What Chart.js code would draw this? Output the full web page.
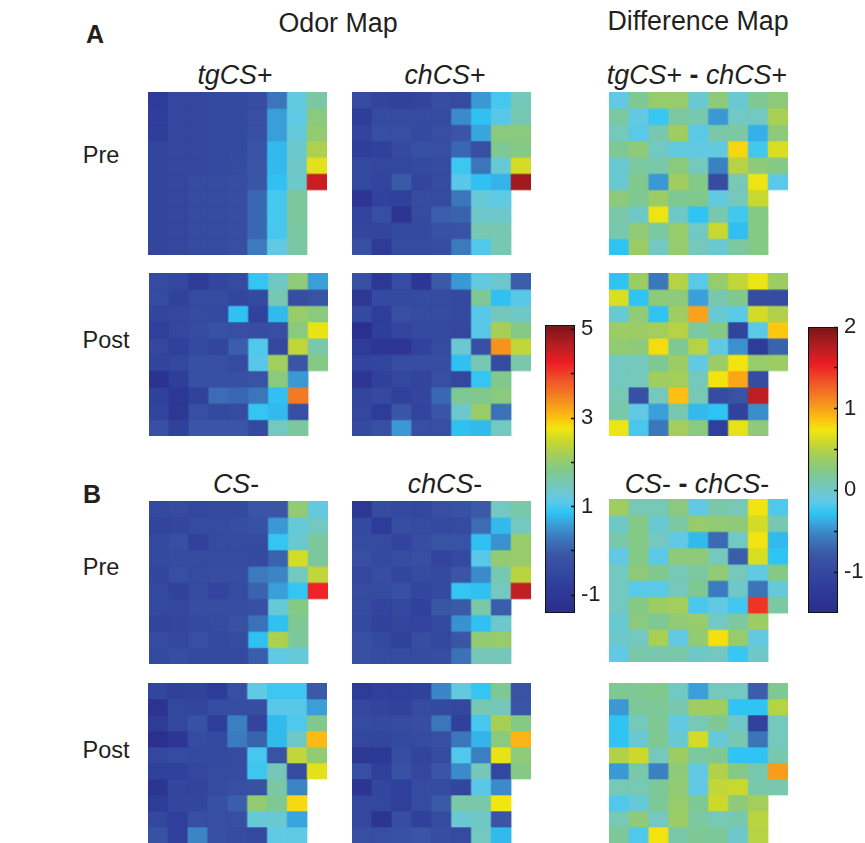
<!DOCTYPE html>
<html>
<head>
<meta charset="utf-8">
<title>Odor maps</title>
<script src="https://cdn.jsdelivr.net/npm/chart.js@4/dist/chart.umd.min.js"></script>
<style>
    html, body { margin: 0; padding: 0; background: #fff; }
    body { position: relative; width: 865px; height: 843px; overflow: hidden; font-family: "Liberation Sans", Arial, sans-serif; color: #231f20; }
    canvas { position: absolute; }
    canvas.map { filter: blur(0.4px); }
    .txt { position: absolute; white-space: nowrap; line-height: 30px; height: 30px; font-size: 26.8px; transform: translateX(-50%); }
    .row { font-size: 23.5px; }
    .panelTag { font-size: 25px; font-weight: bold; }
</style>
</head>
<body>
<div class="txt" style="left:338px;top:8px">Odor Map</div>
<div class="txt" style="left:698px;top:6px">Difference Map</div>
<div class="txt panelTag" style="left:95px;top:19px">A</div>
<div class="txt panelTag" style="left:92px;top:479px">B</div>
<div class="txt" style="left:235px;top:60px"><i>tgCS</i>+</div>
<div class="txt" style="left:445px;top:60px"><i>chCS</i>+</div>
<div class="txt" style="left:697px;top:60px"><i>tgCS</i>+ <b>-</b> <i>chCS</i>+</div>
<div class="txt" style="left:236px;top:469px"><i>CS</i>-</div>
<div class="txt" style="left:445px;top:469px"><i>chCS</i>-</div>
<div class="txt" style="left:697px;top:469px"><i>CS</i>- <b>-</b> <i>chCS</i>-</div>
<div class="txt row" style="left:101px;top:140px">Pre</div>
<div class="txt row" style="left:106px;top:325px">Post</div>
<div class="txt row" style="left:101px;top:552px">Pre</div>
<div class="txt row" style="left:106px;top:735px">Post</div>

<script>
const columns = ['1', '2', '3', '4', '5', '6', '7', '8', '9'];

// Odor map values, rows top to bottom, null = outside the bulb map
const tgCSplusPre = [
    [-0.85, -0.5, -0.5, -0.45, -0.45, -0.35, 0.25, 1.2, 1.65],
    [-0.8, -0.5, -0.5, -0.45, -0.45, -0.3, 0.6, 1.15, 1.9],
    [-0.8, -0.5, -0.5, -0.45, -0.45, -0.25, 0.6, 1.25, 2.0],
    [-0.55, -0.5, -0.5, -0.45, -0.45, -0.15, 0.8, 1.35, 2.25],
    [-0.55, -0.5, -0.5, -0.45, -0.4, -0.1, 0.8, 1.4, 2.65],
    [-0.55, -0.5, -0.4, -0.4, -0.35, -0.1, 0.85, 1.35, 4.5],
    [-0.55, -0.5, -0.4, -0.4, -0.35, 0.1, 1.0, 1.7, null],
    [-0.55, -0.5, -0.4, -0.4, -0.35, 0.1, 1.0, 1.7, null],
    [-0.55, -0.5, -0.4, -0.4, -0.35, 0.1, 1.0, 1.65, null],
    [-0.55, -0.5, -0.4, -0.4, -0.3, 0.3, 1.15, 1.65, null]
];
const chCSplusPre = [
    [-0.4, -0.6, -0.65, -0.6, -0.35, -0.4, 0.55, 1.0, 1.5],
    [-0.8, -0.4, -0.4, -0.4, -0.4, 0.45, 0.85, 1.1, 1.55],
    [-0.6, -0.3, -0.3, -0.45, -0.3, -0.1, 0.65, 1.9, 1.9],
    [-0.8, -0.7, -0.45, -0.25, -0.3, 0.1, -0.3, 1.75, 1.85],
    [-0.45, -0.5, -0.5, -0.45, -0.4, 0.95, 0.25, 1.25, 2.55],
    [-0.45, -0.6, -0.05, -0.55, -0.4, 1.1, 0.85, 0.75, 4.8],
    [-1.1, -0.65, -0.7, -0.4, -0.4, 0.25, 1.25, 1.15, null],
    [-0.6, -0.3, -1.1, -0.4, 0.0, 0.05, 1.35, 1.35, null],
    [-0.55, -0.55, -0.45, -0.45, -0.2, -0.15, 1.55, 1.55, null],
    [-0.25, -0.85, -0.4, -0.4, -0.35, 0.3, 1.05, 1.55, null]
];
const tgCSplusPost = [
    [-0.4, -0.5, -0.9, -0.55, -0.4, 0.9, 1.4, 1.95, 0.6],
    [-0.4, -0.65, -0.4, -0.4, -0.55, -0.45, 1.55, -0.35, -0.15],
    [-0.55, -0.5, -0.4, -0.45, 0.85, -0.65, 0.8, 2.05, 1.9],
    [-0.75, -0.5, -0.4, -0.2, -0.3, -0.35, -0.3, 1.9, 2.7],
    [-0.5, -0.7, -0.45, -0.55, 0.0, 1.05, -0.5, 2.4, 1.6],
    [-0.6, -0.5, -0.25, -0.25, -0.4, 1.1, 2.15, -0.1, 1.85],
    [-1.2, -0.8, -0.25, -0.25, -0.25, -0.15, 1.9, 0.55, null],
    [-0.7, -1.0, -0.65, 0.15, 0.1, 0.25, 0.85, 3.55, null],
    [-0.6, -1.0, -0.3, -0.45, -0.4, 0.9, 0.8, -0.3, null],
    [-0.25, -0.7, -0.1, -0.1, -0.1, -0.45, 1.45, 1.7, null]
];
const chCSplusPost = [
    [-0.25, -1.0, -0.35, -1.05, -0.05, 0.55, 1.2, 1.35, 0.0],
    [-1.0, -0.45, -0.45, -0.4, -0.4, -0.45, 1.75, 0.85, 1.1],
    [-0.45, -0.8, -0.3, -0.4, -0.4, -0.45, 1.1, 1.5, 1.4],
    [-1.25, -0.8, -0.55, -0.45, -0.45, -0.5, 1.1, 2.2, 1.85],
    [-0.9, -1.05, -1.05, -0.65, -0.4, 1.3, -0.25, 3.35, 2.4],
    [-0.6, -0.55, -0.35, -0.35, -0.35, 0.85, 1.55, -0.4, 1.6],
    [-1.05, -0.7, -0.5, -0.6, -0.3, -0.5, 0.9, 1.8, null],
    [-0.55, -0.45, -0.7, -0.55, 0.1, 1.75, 1.8, 1.9, null],
    [-0.5, -0.85, -0.1, -0.6, -0.1, 1.35, 2.05, 0.2, null],
    [-0.45, -0.25, 0.55, -0.3, -0.3, 0.85, 0.8, 1.45, null]
];
const csMinusPre = [
    [-0.45, -0.4, -0.5, -0.45, -0.45, -0.1, -0.1, 2.0, 1.2],
    [-0.6, -0.55, -0.4, -0.4, -0.35, -0.2, 0.55, 1.25, 1.45],
    [-0.45, -0.3, -0.65, -0.4, -0.4, -0.4, 0.9, 1.3, 1.7],
    [-0.45, -0.4, -0.4, -0.4, -0.4, -0.45, 0.05, 2.55, 1.7],
    [-0.55, -0.3, -0.4, -0.35, -0.35, 0.3, 0.4, 1.45, 2.4],
    [-0.45, -0.65, -0.4, -0.6, -0.4, 0.05, 0.6, 0.9, 4.2],
    [-0.45, -0.5, -0.35, -0.35, -0.35, -0.25, 1.25, 1.85, null],
    [-0.6, -0.55, -0.45, -0.4, -0.2, 0.2, 0.85, 1.75, null],
    [-0.4, -0.5, -0.3, -0.45, -0.4, 0.85, 2.25, 1.7, null],
    [-0.45, -0.35, -0.45, -0.45, -0.45, 0.0, 1.15, 1.25, null]
];
const chCSminusPre = [
    [-1.0, -0.4, -0.45, -0.5, -0.3, -0.2, -0.05, 1.45, 1.6],
    [-0.45, -0.85, -0.35, -0.4, -0.45, -0.4, 0.15, 0.8, 1.45],
    [-0.4, -0.4, -0.6, -0.35, -0.15, -0.15, 0.85, 0.5, 2.05],
    [-0.3, -0.45, -0.35, -0.3, -0.6, -0.45, 1.1, 2.0, 2.05],
    [-0.5, -0.35, -0.55, -0.4, -0.45, -0.1, 0.45, 1.55, 2.35],
    [-0.4, -0.4, -0.25, -0.55, -0.45, 0.9, 0.85, 1.45, 4.55],
    [-0.4, -0.6, -0.5, -0.7, -0.1, -0.05, 1.6, 0.0, null],
    [-0.45, -0.65, -0.55, -0.6, -0.45, 0.5, 0.85, 1.35, null],
    [-0.25, -0.45, -0.65, -0.35, -0.5, -0.1, 2.0, 2.05, null],
    [-0.25, -0.4, -0.4, -0.4, -0.35, 0.2, 1.5, 1.5, null]
];
const csMinusPost = [
    [-0.55, -0.7, -0.65, -0.85, -0.3, 1.15, 0.95, 0.95, -0.05],
    [-1.15, -0.5, -0.55, -0.35, -0.35, -0.35, 1.1, 1.1, 0.6],
    [-0.9, -0.5, -0.2, -0.8, 0.35, -0.6, 0.8, 1.05, 1.8],
    [-1.25, -1.05, -0.4, -0.45, 0.3, 0.05, 0.8, 1.4, 3.05],
    [-0.5, -0.4, -0.45, -0.45, -0.4, 1.0, -0.15, 2.4, 2.0],
    [-0.7, -0.7, -0.5, -0.4, -0.4, 0.95, 1.5, -0.4, 2.65],
    [-1.1, -0.55, -0.6, -0.4, -0.3, -0.2, 1.65, 0.4, null],
    [-0.85, -0.55, -0.55, -0.25, 0.0, 2.0, 1.75, 2.85, null],
    [-0.5, -0.75, -0.3, -0.3, -0.3, 1.25, 1.3, 0.65, null],
    [-0.2, -0.75, 0.4, -0.25, -0.4, -0.45, 1.15, 1.15, null]
];
const chCSminusPost = [
    [-0.85, -0.75, -0.75, -0.65, 0.4, 1.2, 0.9, 1.75, -0.15],
    [-0.5, -0.6, -0.65, -0.4, -0.45, -0.5, 1.55, 1.5, -0.1],
    [-0.4, -0.45, -0.4, -0.35, 0.25, -0.7, 1.0, 2.2, 1.85],
    [-0.5, -0.55, -0.45, -0.4, -0.3, 0.25, 0.75, 1.9, 3.1],
    [-1.0, -0.95, -0.35, -0.6, -0.4, 1.05, 0.35, 2.7, 1.95],
    [-0.3, -0.75, -0.2, -0.5, -0.1, 0.45, 1.5, -0.5, 1.85],
    [-1.1, -0.55, -0.75, -0.4, -0.4, -0.55, 1.1, 0.45, null],
    [-0.5, -0.5, -0.75, -0.4, -0.05, 1.6, 1.6, 2.75, null],
    [-0.5, -1.1, -0.35, -0.7, -0.4, 1.3, 1.4, -0.1, null],
    [-0.3, -0.3, -0.2, -0.1, -0.35, -0.4, 1.45, 0.8, null]
];

// Difference map values
const diffPlusPre = [
    [-0.12, 0.2, 0.35, 0.35, -0.05, 0.3, -0.05, 0.2, 0.3],
    [0.15, -0.12, -0.25, 0.15, 0.1, -0.45, 0.02, 0.02, 0.45],
    [0.05, -0.15, 0.1, 0.4, -0.15, 0.12, 0.15, -0.35, 0.3],
    [0.2, 0.3, 0.02, -0.1, -0.12, -0.1, 0.8, -0.22, 0.65],
    [-0.05, 0.15, 0.12, 0.28, 0.05, -0.55, 0.5, 0.3, 0.25],
    [-0.05, 0.22, -0.45, 0.4, 0.25, -0.95, 0.08, 0.72, -0.15],
    [0.3, 0.2, 0.38, 0.2, 0.22, -0.1, 0.05, 0.58, null],
    [0.12, 0.0, 0.72, 0.0, -0.28, 0.1, -0.22, 0.25, null],
    [0.1, 0.32, 0.15, 0.35, 0.02, 0.58, -0.3, 0.25, null],
    [-0.28, 0.38, 0.03, 0.35, 0.05, -0.05, 0.15, 0.25, null]
];
const diffPlusPost = [
    [-0.28, 0.38, -0.6, 0.5, -0.15, 0.35, 0.55, 0.72, 0.38],
    [0.65, -0.28, 0.3, 0.3, -0.42, 0.1, 0.22, -0.95, -0.95],
    [-0.05, 0.32, -0.28, 0.4, 1.0, -0.05, -0.15, 0.62, 0.48],
    [0.38, 0.38, 0.42, 0.5, 0.15, 0.25, -1.05, -0.15, 0.85],
    [0.33, 0.3, 0.78, 0.2, 0.5, -0.12, -0.48, -1.2, -0.72],
    [0.03, 0.05, 0.2, 0.38, -0.12, 0.38, 0.75, 0.35, 0.38],
    [0.03, 0.05, 0.4, 0.42, 0.05, 0.75, 0.98, -0.95, null],
    [0.08, -0.88, 0.05, 0.88, 0.08, -0.95, -0.85, 1.72, null],
    [0.12, -0.12, -0.42, 0.1, -0.32, -0.28, -1.1, -0.5, null],
    [0.72, -0.2, -0.6, 0.42, 0.28, -1.15, 0.7, 0.3, null]
];
const diffMinusPre = [
    [0.4, 0.08, 0.08, 0.28, -0.12, 0.12, 0.08, 0.75, -0.18],
    [0.0, 0.25, -0.05, 0.15, 0.35, 0.32, 0.3, 0.62, 0.1],
    [0.12, 0.25, 0.03, -0.12, -0.32, -0.68, 0.02, 0.75, -0.32],
    [-0.12, 0.25, -0.15, 0.3, 0.3, 0.05, -0.75, 0.65, -0.28],
    [0.03, 0.3, 0.22, 0.08, 0.15, 0.32, 0.05, -0.12, 0.25],
    [0.03, -0.15, -0.15, 0.06, 0.2, -0.58, 0.0, -0.62, -0.08],
    [0.03, 0.25, 0.38, 0.42, -0.2, -0.12, -0.22, 1.45, 0.15],
    [-0.05, 0.28, 0.2, 0.32, 0.35, 0.02, 0.15, 0.38, null],
    [-0.02, 0.03, 0.45, -0.12, 0.33, 0.76, 0.35, -0.1, null],
    [-0.12, 0.12, 0.1, 0.12, 0.0, 0.03, -0.25, 0.0, null]
];
const diffMinusPost = [
    [0.2, 0.2, 0.22, 0.02, -0.42, 0.05, 0.03, -0.75, 0.2],
    [-0.45, 0.18, 0.18, 0.1, 0.4, 0.4, -0.28, -0.28, 0.5],
    [-0.28, 0.05, 0.2, -0.12, 0.08, 0.2, 0.0, -1.1, 0.05],
    [-0.28, -0.05, 0.2, -0.05, 0.62, -0.08, 0.1, -0.62, 0.05],
    [0.48, 0.6, 0.05, 0.38, 0.15, 0.2, -0.28, -0.28, 0.1],
    [-0.45, 0.12, -0.55, 0.3, -0.12, 0.48, 0.25, 0.1, 1.02],
    [0.08, 0.08, 0.18, 0.32, -0.12, 0.55, 0.58, 0.12, 0.1],
    [-0.18, -0.08, 0.18, 0.35, 0.2, 0.6, 0.3, 0.42, null],
    [0.08, 0.3, 0.04, 0.38, 0.15, 0.08, 0.1, 0.52, null],
    [0.18, -0.18, 0.75, 0.12, 0.2, 0.18, -0.02, 0.5, null]
];

// Colour scales
const odorRange = [-1.4, 5.1];
const diffRange = [-1.5, 2];
const odorTicks = [-1, 0, 1, 2, 3, 4, 5];
const odorTickLabels = ['-1', '', '1', '', '3', '', '5'];
const diffTicks = [-1, -0.5, 0, 0.5, 1, 1.5, 2];
const diffTickLabels = ['-1', '', '0', '', '1', '', '2'];
const cmapPos = [0, 0.10, 0.20, 0.27, 0.31, 0.35, 0.39, 0.44, 0.49, 0.55, 0.60, 0.64, 0.68, 0.73, 0.80, 0.87, 0.93, 1];
const cmapColors = ['#2a2c8b', '#2f3f9b', '#3a55a5', '#3b7fc0', '#3aa0db', '#2fc5f4', '#5fc9e6', '#74c8bf', '#7fc88f',
    '#a4ce5a', '#cdd92a', '#f2e60f', '#fdbf12', '#f7941d', '#f15a29', '#ed1c24', '#b41e23', '#7a1315'];

function hexToRgb(hex) {
    return [1, 3, 5].map(i => parseInt(hex.substr(i, 2), 16));
}

function colorFor(value, range) {
    const f = Math.min(1, Math.max(0, (value - range[0]) / (range[1] - range[0])));
    let i = 0;
    while (i < cmapPos.length - 2 && f > cmapPos[i + 1]) i++;
    const t = (f - cmapPos[i]) / (cmapPos[i + 1] - cmapPos[i]);
    const a = hexToRgb(cmapColors[i]);
    const b = hexToRgb(cmapColors[i + 1]);
    const rgb = a.map((c, k) => Math.round(c + (b[k] - c) * t));
    return `rgb(${rgb[0]},${rgb[1]},${rgb[2]})`;
}

function addCanvas(left, top, width, height) {
    const canvas = document.createElement('canvas');
    canvas.width = width;
    canvas.height = height;
    canvas.style.left = left + 'px';
    canvas.style.top = top + 'px';
    document.body.appendChild(canvas);
    return canvas;
}

// One heatmap: each row is a dataset of floating bars spanning [row, row + 1]
function drawPanel(values, range, left, top, width, height) {
    const canvas = addCanvas(left, top, 180, 160);
    canvas.className = 'map';
    const datasets = values.map((row, r) => ({
        data: row.map(v => v === null ? null : [r, r + 1]),
        backgroundColor: row.map(v => v === null ? 'rgba(0,0,0,0)' : colorFor(v, range)),
        borderWidth: 0,
        barPercentage: 1,
        categoryPercentage: 1
    }));
    new Chart(canvas, {
        type: 'bar',
        data: { labels: columns, datasets },
        options: {
            responsive: false,
            animation: false,
            devicePixelRatio: 1,
            layout: { padding: 0 },
            plugins: { legend: { display: false }, tooltip: { enabled: false } },
            scales: {
                x: { display: false, stacked: true },
                y: { display: false, reverse: true, min: 0, max: values.length }
            }
        }
    });
    canvas.style.width = width + 'px';
    canvas.style.height = height + 'px';
}

function drawColorbar(range, ticks, tickLabels, left, top, barHeight) {
    const canvas = addCanvas(left, top - 14, 64, barHeight + 28);
    new Chart(canvas, {
        type: 'bar',
        data: {
            labels: [''],
            datasets: [{
                data: [range],
                barPercentage: 1,
                categoryPercentage: 1,
                borderColor: '#111',
                borderWidth: 1.5,
                borderSkipped: false,
                backgroundColor(context) {
                    const area = context.chart.chartArea;
                    if (!area) return '#fff';
                    const g = context.chart.ctx.createLinearGradient(0, area.bottom, 0, area.top);
                    cmapPos.forEach((p, i) => g.addColorStop(p, cmapColors[i]));
                    return g;
                }
            }]
        },
        options: {
            responsive: false,
            animation: false,
            layout: { padding: { top: 14, bottom: 14, left: 0, right: 0 } },
            plugins: { legend: { display: false }, tooltip: { enabled: false } },
            scales: {
                x: { display: false },
                y: {
                    position: 'right',
                    min: range[0],
                    max: range[1],
                    afterBuildTicks(scale) { scale.ticks = ticks.map(value => ({ value })); },
                    afterFit(scale) {
                        scale.width = 34;
                        // the tick labels may overhang the bar ends
                        scale.paddingTop = 0;
                        scale.paddingBottom = 0;
                    },
                    border: { display: false },
                    grid: { drawOnChartArea: false, tickLength: -4, tickColor: '#111', tickWidth: 1.5, z: 1 },
                    ticks: {
                        autoSkip: false,
                        maxRotation: 0,
                        padding: 10,
                        color: '#231f20',
                        font: { family: '"Liberation Sans"', size: 22 },
                        callback(value) { return tickLabels[ticks.indexOf(value)]; }
                    }
                }
            }
        }
    });
}

drawPanel(tgCSplusPre, odorRange, 148, 92, 179, 163);
drawPanel(chCSplusPre, odorRange, 352, 92, 179, 163);
drawPanel(tgCSplusPost, odorRange, 149, 273, 179, 163);
drawPanel(chCSplusPost, odorRange, 352, 273, 179, 163);
drawPanel(csMinusPre, odorRange, 149, 501, 179, 163);
drawPanel(chCSminusPre, odorRange, 352, 501, 179, 163);
drawPanel(csMinusPost, odorRange, 148, 683, 179, 160);
drawPanel(chCSminusPost, odorRange, 352, 683, 179, 160);

drawPanel(diffPlusPre, diffRange, 609, 92, 179, 163);
drawPanel(diffPlusPost, diffRange, 609, 273, 179, 163);
drawPanel(diffMinusPre, diffRange, 609, 499, 179, 163);
drawPanel(diffMinusPost, diffRange, 609, 683, 179, 160);

drawColorbar(odorRange, odorTicks, odorTickLabels, 545, 325, 288);
drawColorbar(diffRange, diffTicks, diffTickLabels, 808, 327, 286);
</script>
</body>
</html>
